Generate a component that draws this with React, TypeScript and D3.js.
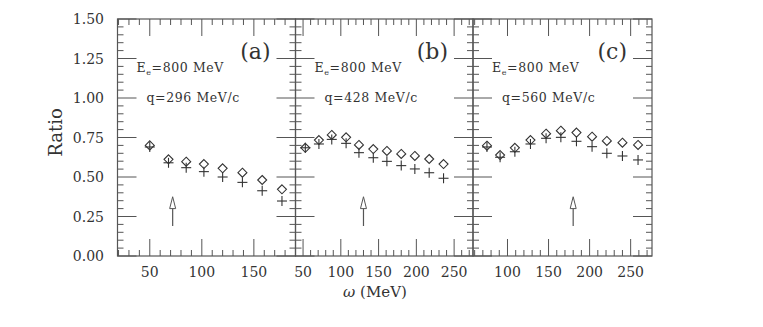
import React from 'react';
import * as d3 from 'd3';

// panel (a): q = 296 MeV/c
const omegaA = [50, 68, 85, 102, 120, 139, 158, 177];
const diamondA = [0.70, 0.612, 0.597, 0.582, 0.555, 0.527, 0.481, 0.422];
const plusA = [0.69, 0.59, 0.559, 0.534, 0.50, 0.466, 0.413, 0.348];

// panel (b): q = 428 MeV/c
const omegaB = [53, 71, 88, 107, 124, 143, 161, 180, 198, 217, 236];
const diamondB = [0.685, 0.734, 0.766, 0.751, 0.703, 0.677, 0.665, 0.646, 0.633, 0.614, 0.582];
const plusB = [0.685, 0.709, 0.738, 0.713, 0.654, 0.622, 0.599, 0.572, 0.551, 0.527, 0.492];

// panel (c): q = 560 MeV/c
const omegaC = [75, 91, 109, 128, 147, 165, 184, 203, 221, 240, 259];
const diamondC = [0.698, 0.639, 0.685, 0.734, 0.774, 0.793, 0.781, 0.755, 0.728, 0.717, 0.703];
const plusC = [0.69, 0.625, 0.66, 0.709, 0.745, 0.751, 0.726, 0.692, 0.65, 0.633, 0.608];

const panelLabels = ['(a)', '(b)', '(c)'];
const qLabels = ['q=296 MeV/c', 'q=428 MeV/c', 'q=560 MeV/c'];
const arrowOmega = [72, 130, 180];
const xDomains: [number, number][] = [[19, 190], [40, 275], [58, 276]];
const yTickLabels = [0, 0.25, 0.5, 0.75, 1.0, 1.25, 1.5];

const panels = [
  { omega: omegaA, diamond: diamondA, plus: plusA, x0: 117.5, x1: 295.5 },
  { omega: omegaB, diamond: diamondB, plus: plusB, x0: 295.5, x1: 473 },
  { omega: omegaC, diamond: diamondC, plus: plusC, x0: 473, x1: 652 },
];

const W = 763, H = 327;
const top = 19, bottom = 256;
const ink = '#333';
const line = '#555';
const font = '"DejaVu Serif", "Liberation Serif", serif';

const y = d3.scaleLinear().domain([0, 1.5]).range([bottom, top]);

const Panel = ({ i }: { i: number }) => {
  const p = panels[i];
  const x = d3.scaleLinear().domain(xDomains[i]).range([p.x0, p.x1]);
  const [d0, d1] = xDomains[i];
  const minorX = d3.range(Math.ceil(d0 / 10) * 10, d1 + 0.001, 10).filter(v => v % 50 !== 0);
  const majorX = d3.range(Math.ceil(d0 / 50) * 50, d1 + 0.001, 50);
  const minorY = d3.range(0, 1.5001, 0.05).filter(v => Math.abs(v / 0.25 - Math.round(v / 0.25)) > 0.01);
  const majorY = yTickLabels;
  const ax = x(arrowOmega[i]);
  const ds = 4.5;
  const ps = 5;
  return (
    <g>
      <rect x={p.x0} y={top} width={p.x1 - p.x0} height={bottom - top} fill="none" stroke={line} strokeWidth={1.2} />
      {minorX.map(v => (
        <g key={'mx' + v} stroke={line} strokeWidth={1}>
          <line x1={x(v)} x2={x(v)} y1={bottom} y2={bottom - 6} />
          <line x1={x(v)} x2={x(v)} y1={top} y2={top + 6} />
        </g>
      ))}
      {majorX.map(v => (
        <g key={'Mx' + v} stroke={line} strokeWidth={1}>
          <line x1={x(v)} x2={x(v)} y1={bottom} y2={bottom - 17} />
          <line x1={x(v)} x2={x(v)} y1={top} y2={top + 17} />
        </g>
      ))}
      {minorY.map(v => (
        <g key={'my' + v} stroke={line} strokeWidth={1}>
          <line x1={p.x0} x2={p.x0 + 6} y1={y(v)} y2={y(v)} />
          <line x1={p.x1} x2={p.x1 - 6} y1={y(v)} y2={y(v)} />
        </g>
      ))}
      {majorY.map(v => (
        <g key={'My' + v} stroke={line} strokeWidth={1}>
          <line x1={p.x0} x2={p.x0 + 19} y1={y(v)} y2={y(v)} />
          <line x1={p.x1} x2={p.x1 - 19} y1={y(v)} y2={y(v)} />
        </g>
      ))}
      {majorX.map(v => (
        <text key={'lx' + v} x={x(v)} y={277} textAnchor="middle" fontSize={14} fill={ink} fontFamily={font}>{v}</text>
      ))}
      <text x={p.x1 - 25} y={59} textAnchor="end" fontSize={22} fill={ink} fontFamily={font}>{panelLabels[i]}</text>
      <text x={p.x0 + 19} y={72} fontSize={12.5} fill={ink} fontFamily={font} letterSpacing={0.6}>
        E<tspan fontSize={8} dy={3}>e</tspan><tspan dy={-3}>=800 MeV</tspan>
      </text>
      <text x={p.x0 + 29} y={102} fontSize={12.5} fill={ink} fontFamily={font} letterSpacing={0.6}>{qLabels[i]}</text>
      {/* arrow */}
      <line x1={ax} x2={ax} y1={y(0.19)} y2={y(0.3)} stroke={line} strokeWidth={1.2} />
      <path d={`M${ax},${y(0.375)} L${ax + 3},${y(0.3)} L${ax - 3},${y(0.3)} Z`} fill="#fff" stroke={line} strokeWidth={1} />
      {p.omega.map((o, k) => (
        <g key={'pt' + k} stroke={ink} strokeWidth={1.1} fill="none">
          <line x1={x(o) - ps} x2={x(o) + ps} y1={y(p.plus[k])} y2={y(p.plus[k])} />
          <line x1={x(o)} x2={x(o)} y1={y(p.plus[k]) - ps} y2={y(p.plus[k]) + ps} />
          <path d={`M${x(o)},${y(p.diamond[k]) - ds} L${x(o) + ds},${y(p.diamond[k])} L${x(o)},${y(p.diamond[k]) + ds} L${x(o) - ds},${y(p.diamond[k])} Z`} />
        </g>
      ))}
    </g>
  );
};

export default function App() {
  return (
    <svg width={W} height={H} style={{ position: 'absolute', left: 0, top: 0, background: '#fff' }}>
      {yTickLabels.map(v => (
        <text key={v} x={104} y={y(v) + 5} textAnchor="end" fontSize={14} fill={ink} fontFamily={font}>{v.toFixed(2)}</text>
      ))}
      <text transform={`translate(62,${(top + bottom) / 2 - 5}) rotate(-90)`} textAnchor="middle" fontSize={18} fill={ink} fontFamily={font}>Ratio</text>
      {panels.map((_, i) => <Panel key={i} i={i} />)}
      <text x={375} y={297} textAnchor="middle" fontSize={15} fill={ink} fontFamily={font}>
        <tspan fontStyle="italic">ω</tspan> (MeV)
      </text>
    </svg>
  );
}
